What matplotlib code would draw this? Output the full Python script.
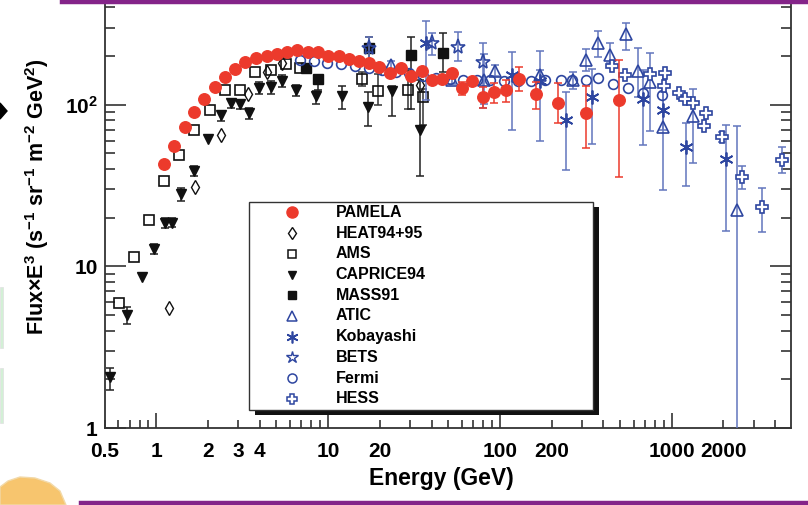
import numpy as np
import matplotlib
matplotlib.use('Agg')
import matplotlib.pyplot as plt
from matplotlib.lines import Line2D
from matplotlib.patches import Rectangle, Polygon
from matplotlib.ticker import FixedLocator, FuncFormatter, NullFormatter

nan = float('nan')

# ---------------- data ----------------
pamela_E = [1.11, 1.27, 1.46, 1.66, 1.90, 2.20, 2.51, 2.87, 3.29, 3.81, 4.39, 5.05, 5.78,
            6.61, 7.62, 8.79, 10.05, 11.5, 13.3, 15.2, 17.4, 19.9, 23.0, 26.4, 30.5, 35.0,
            40.2, 46.2, 52.8, 60.4, 69.2, 79.8, 92.1, 108, 129, 163, 219, 316, 491]
pamela_F = [43.0, 55.6, 72.8, 90.1, 108, 129, 148, 166, 183, 194, 199, 206, 213,
            217, 213, 211, 200, 200, 191, 187, 180, 172, 158, 169, 150, 162,
            142, 144, 156, 126, 141, 112, 120, 123, 145, 116, 103, 88.9, 107]
pamela_lo = [nan, nan, nan, nan, nan, nan, nan, nan, nan, nan, nan, nan, nan,
             nan, nan, nan, nan, nan, nan, nan, nan, nan, nan, nan, nan, nan,
             nan, nan, nan, 114, nan, 96, 102, 104, 121, 94, 77, 54.3, 35.6]
pamela_hi = [nan, nan, nan, nan, nan, nan, nan, nan, nan, nan, nan, nan, nan,
             nan, nan, nan, nan, nan, nan, nan, nan, nan, nan, nan, nan, nan,
             nan, nan, nan, 139, nan, 129, 136, 142, 170, 139, 136, 131, 189]

heat_E = [1.18, 1.69, 2.38, 3.40, 4.40, 5.41, 34.1]
heat_F = [5.51, 30.8, 65.0, 117, 160, 180, 132]

ams_E = [0.605, 0.744, 0.910, 1.11, 1.35, 1.66, 2.04, 2.50, 3.07, 3.77, 4.68, 5.67, 6.86,
         15.7, 19.4, 29.1, 35.9]
ams_F = [5.91, 11.4, 19.3, 33.9, 48.7, 69.8, 92.7, 123, 123, 160, 165, 179, 169,
         144, 121, 124, 111]
ams_lo = [nan, nan, nan, nan, nan, nan, nan, nan, nan, nan, nan, nan, nan, 130, 100, 94, 75]
ams_hi = [nan, nan, nan, nan, nan, nan, nan, nan, nan, nan, nan, nan, nan, 160, 155, 164, 125]

caprice_E = [0.537, 0.675, 0.821, 0.964, 1.12, 1.24, 1.39, 1.65, 2.00, 2.38, 2.72, 3.09,
             3.45, 3.96, 4.67, 5.40, 6.49, 8.55, 12.0, 17.0, 23.4, 34.1]
caprice_F = [2.08, 5.00, 8.64, 12.8, 18.5, 18.6, 28.0, 38.9, 61.1, 86.7, 102, 101,
             89.1, 127, 128, 140, 124, 113, 113, 96.1, 122, 69.5]
caprice_lo = [1.72, 4.40, nan, 11.9, 17.3, 17.4, 25.4, 36.0, nan, 79, 95, 94,
              82, 116, 117, 128, 113, 101, 94, 74, 85.5, 36.3]
caprice_hi = [2.35, 5.63, nan, 13.8, 19.8, 19.9, 30.3, 41.5, nan, 92, 108, 107,
              95, 139, 140, 153, 133, 122, 130, 119, 130, 142]

mass_E = [7.43, 8.79, 17.4, 30.3, 46.6]
mass_F = [169, 144, 223, 203, 210]
mass_lo = [nan, 123, 184, 94, 159]
mass_hi = [nan, 153, 262, 264, 278]

atic_E = [23.3, 52.8, 81, 93.3, 171, 267, 319, 374, 439, 545, 637, 745, 893, 1335, 2400]
atic_F = [176, 142, 142, 162, 153, 142, 190, 240, 204, 272, 162, 139, 73.1, 85.1, 22.3]
atic_lo = [167, 134, 101, 150, 142, 125, 162, 198, 180, 219, 112, 68.8, 29.6, 43.5, 0.5]
atic_hi = [185, 150, 205, 175, 165, 159, 220, 284, 240, 322, 223, 210, 160, 124.5, 73.9]

kob_E = [37.3, 117, 171, 242, 343, 684, 893, 1208, 2065]
kob_F = [240, 152, 141, 79.9, 112, 108, 92.8, 54.5, 45.9]
kob_lo = [107, 70, 59.9, 39.4, 57.2, 56, 70, 31.4, 16.6]
kob_hi = [330, 213, 216, 120, 166, 163, 120, 77.4, 74.9]

bets_E = [17.4, 40.3, 56.8, 79.8]
bets_F = [223, 241, 228, 184]
bets_lo = [190, 203, 185, 95]
bets_hi = [262, 277, 280, 240]

fermi_E = [6.9, 8.3, 9.9, 11.9, 14.3, 17.2, 20.6, 24.7, 29.6, 35.5, 42.6, 51.1, 61.3, 73.5,
           88, 106, 127, 152, 183, 228, 263, 319, 373, 456, 558, 682, 873]
fermi_F = [188, 185, 180, 178, 174, 168, 165, 160, 156, 150, 147, 145, 143, 142,
           142, 141, 141, 141, 142, 142, 142, 142, 146, 134, 127, 118, 115]

hess_E = [447, 538, 746, 912, 901, 1102, 1194, 1335, 1583, 1541, 1963, 2566, 3350, 4387]
hess_F = [173, 152, 155, 158, 131, 118, 109, 103, 88.5, 73.9, 63.4, 35.9, 23.4, 45.5]
hess_lo = [nan, nan, nan, nan, nan, nan, nan, nan, nan, nan, 59, 30.0, 16.2, 37.7]
hess_hi = [nan, nan, nan, nan, nan, nan, nan, nan, nan, nan, 68, 41.8, 30.6, 54.5]

x_tick_labels = ['0.5', '1', '2', '3', '4', '10', '20', '100', '200', '1000', '2000']
y_tick_labels = ['1', '10', '$10^{2}$']

legend_labels = ['PAMELA', 'HEAT94+95', 'AMS', 'CAPRICE94', 'MASS91', 'ATIC',
                 'Kobayashi', 'BETS', 'Fermi', 'HESS']

# ---------------- style ----------------
plt.rcParams['font.family'] = ['Liberation Sans', 'DejaVu Sans']
plt.rcParams['mathtext.fontset'] = 'custom'
plt.rcParams['mathtext.rm'] = 'Liberation Sans:bold'
plt.rcParams['mathtext.bf'] = 'Liberation Sans:bold'
plt.rcParams['mathtext.it'] = 'Liberation Sans:bold'
plt.rcParams['mathtext.default'] = 'bf'

RED = '#ec3a2c'
BLK = '#111111'
BLUE = '#2e46a0'
BLUE_ERR = '#6275bd'

W, H = 808, 505
fig = plt.figure(figsize=(W / 100, H / 100), dpi=100)
ax = fig.add_axes([104.6 / W, 1 - 428 / H, (791 - 104.6) / W, 428 / H])
ax.set_xscale('log')
ax.set_yscale('log')
ax.set_xlim(0.5, 4950)
ax.set_ylim(1, 444)


def yerr_of(F, lo, hi):
    F = np.asarray(F, float)
    return [F - np.asarray(lo, float), np.asarray(hi, float) - F]


def series(E, F, lo, hi, ecol, z, **mk):
    if lo is not None:
        ax.errorbar(E, F, yerr=yerr_of(F, lo, hi), fmt='none', ecolor=ecol,
                    elinewidth=1.1, capsize=2.8, capthick=1.1, zorder=z)
    ax.plot(E, F, linestyle='none', zorder=z + 0.5, **mk)


series(caprice_E, caprice_F, caprice_lo, caprice_hi, '#222222', 3,
       marker='v', ms=7, color=BLK, mec=BLK)
series(ams_E, ams_F, ams_lo, ams_hi, '#333333', 3,
       marker='s', ms=7, mfc='none', mec=BLK, mew=1.2)
series(heat_E, heat_F, None, None, BLK, 3,
       marker='d', ms=7.5, mfc='none', mec=BLK, mew=1.0)
series(mass_E, mass_F, mass_lo, mass_hi, '#222222', 3,
       marker='s', ms=6.5, color=BLK, mec=BLK)
series(fermi_E, fermi_F, None, None, BLUE_ERR, 4,
       marker='o', ms=7, mfc='none', mec=BLUE, mew=1.2)
series(atic_E, atic_F, atic_lo, atic_hi, BLUE_ERR, 4,
       marker='^', ms=8.5, mfc='none', mec=BLUE, mew=1.2)
series(kob_E, kob_F, kob_lo, kob_hi, BLUE_ERR, 4,
       marker=(6, 2, 0), ms=10, color=BLUE, mec=BLUE, mew=1.3)
series(bets_E, bets_F, bets_lo, bets_hi, BLUE_ERR, 4,
       marker='*', ms=11, mfc='none', mec=BLUE, mew=1.2)
series(hess_E, hess_F, hess_lo, hess_hi, BLUE_ERR, 4,
       marker='P', ms=9, mfc='white', mec=BLUE, mew=1.2)
series(pamela_E, pamela_F, pamela_lo, pamela_hi, RED, 6,
       marker='o', ms=8.3, color=RED, mec=RED)

# ---------------- axes / ticks ----------------
x_major = [1, 10, 100, 1000]
x_minor = [0.5, 0.6, 0.7, 0.8, 0.9, 2, 3, 4, 5, 6, 7, 8, 9, 20, 30, 40, 50, 60, 70, 80, 90,
           200, 300, 400, 500, 600, 700, 800, 900, 2000, 3000, 4000]
x_lab_pos = [0.5, 1, 2, 3, 4, 10, 20, 100, 200, 1000, 2000]
lab_map = {p: t for p, t in zip(x_lab_pos, x_tick_labels)}


def xfmt(v, pos):
    for p, t in lab_map.items():
        if abs(v - p) / p < 1e-6:
            return t
    return ''


ax.xaxis.set_major_locator(FixedLocator(x_major))
ax.xaxis.set_minor_locator(FixedLocator(x_minor))
ax.xaxis.set_major_formatter(FuncFormatter(xfmt))
ax.xaxis.set_minor_formatter(FuncFormatter(xfmt))

y_major = [1, 10, 100]
y_minor = [2, 3, 4, 5, 6, 7, 8, 9, 20, 30, 40, 50, 60, 70, 80, 90, 200, 300, 400]
ax.yaxis.set_major_locator(FixedLocator(y_major))
ax.yaxis.set_minor_locator(FixedLocator(y_minor))
ax.yaxis.set_major_formatter(FuncFormatter(lambda v, p: y_tick_labels[y_major.index(round(v))]))
ax.yaxis.set_minor_formatter(NullFormatter())

ax.tick_params(axis='x', which='both', direction='in', top=False, bottom=True,
               labelsize=15, pad=10, width=1.1, color='#222222')
ax.tick_params(axis='x', which='major', length=11)
ax.tick_params(axis='x', which='minor', length=5.5)
ax.tick_params(axis='y', which='both', direction='in', left=True, right=True,
               labelsize=15, pad=5, width=1.1, color='#222222')
ax.tick_params(axis='y', which='major', length=15)
ax.tick_params(axis='y', which='minor', length=7)
for lab in ax.get_xticklabels(which='both') + ax.get_yticklabels():
    lab.set_fontweight('bold')
for s in ax.spines.values():
    s.set_linewidth(1.3)
    s.set_color('#333333')

# axis titles
fig.text(441 / W, 1 - 478 / H, 'Energy (GeV)', ha='center', va='center',
         fontsize=16.5, fontweight='bold')
fig.text(37 / W, 1 - 197 / H,
         'Flux\u00d7E$^{3}$ (s$^{-1}$ sr$^{-1}$ m$^{-2}$ GeV$^{2}$)',
         rotation=90, ha='center', va='center', fontsize=15.5, fontweight='bold')

# ---------------- legend (drawn box with shadow) ----------------
lx0, ly0, lx1, ly1 = 248.5, 202, 592.5, 409.5
fig.add_artist(Rectangle((lx0 / W + 6 / W, 1 - (ly1 + 5) / H), (lx1 - lx0) / W, (ly1 - ly0) / H,
                         transform=fig.transFigure, facecolor='#111111', edgecolor='none', zorder=9))
fig.add_artist(Rectangle((lx0 / W, 1 - ly1 / H), (lx1 - lx0) / W, (ly1 - ly0) / H,
                         transform=fig.transFigure, facecolor='white', edgecolor='#333333',
                         lw=1.0, zorder=10))
leg_styles = [
    dict(marker='o', ms=8, color=RED, mec=RED),
    dict(marker='d', ms=6.5, mfc='none', mec=BLK, mew=1.0),
    dict(marker='s', ms=6.2, mfc='none', mec=BLK, mew=1.1),
    dict(marker='v', ms=6.2, color=BLK),
    dict(marker='s', ms=6.2, color=BLK),
    dict(marker='^', ms=7, mfc='none', mec=BLUE, mew=1.1),
    dict(marker=(6, 2, 0), ms=8.5, color=BLUE, mew=1.2),
    dict(marker='*', ms=9, mfc='none', mec=BLUE, mew=1.0),
    dict(marker='o', ms=6.5, mfc='none', mec=BLUE, mew=1.1),
    dict(marker='P', ms=7.5, mfc='white', mec=BLUE, mew=1.1),
]
for i, (lab, st) in enumerate(zip(legend_labels, leg_styles)):
    yy = 1 - (212.3 + 20.74 * i) / H
    fig.add_artist(Line2D([291.7 / W], [yy], transform=fig.transFigure, linestyle='none',
                          zorder=11, **st))
    fig.text(335.7 / W, yy, lab, ha='left', va='center', fontsize=11.5,
             fontweight='bold', zorder=11)

# ---------------- slide decorations ----------------
PURPLE = '#842489'
fig.add_artist(Line2D([62 / W, 1], [1 - 1.8 / H, 1 - 1.8 / H], transform=fig.transFigure,
                      color=PURPLE, lw=3.2, zorder=20))
fig.add_artist(Line2D([81 / W, 1], [1 - 502.5 / H, 1 - 502.5 / H], transform=fig.transFigure,
                      color=PURPLE, lw=3.2, zorder=20))
blob = [(0, 487), (8, 481), (20, 477), (35, 478), (50, 483), (60, 491), (66, 505), (0, 505)]
fig.add_artist(Polygon([(x / W, 1 - y / H) for x, y in blob], closed=True,
                       transform=fig.transFigure, facecolor='#f7c56e', edgecolor='#f2d9a8',
                       lw=1.0, zorder=1))
dia = [(0, 103), (7, 111), (0, 119)]
fig.add_artist(Polygon([(x / W, 1 - y / H) for x, y in dia], closed=True,
                       transform=fig.transFigure, facecolor='black', edgecolor='black', zorder=1))
for y0, y1 in [(287, 348), (368, 423)]:
    fig.add_artist(Rectangle((0, 1 - y1 / H), 3 / W, (y1 - y0) / H, transform=fig.transFigure,
                             facecolor='#d3f0d6', edgecolor='#e0e0e0', lw=0.5, zorder=1))

fig.savefig('out.png', dpi=100)
